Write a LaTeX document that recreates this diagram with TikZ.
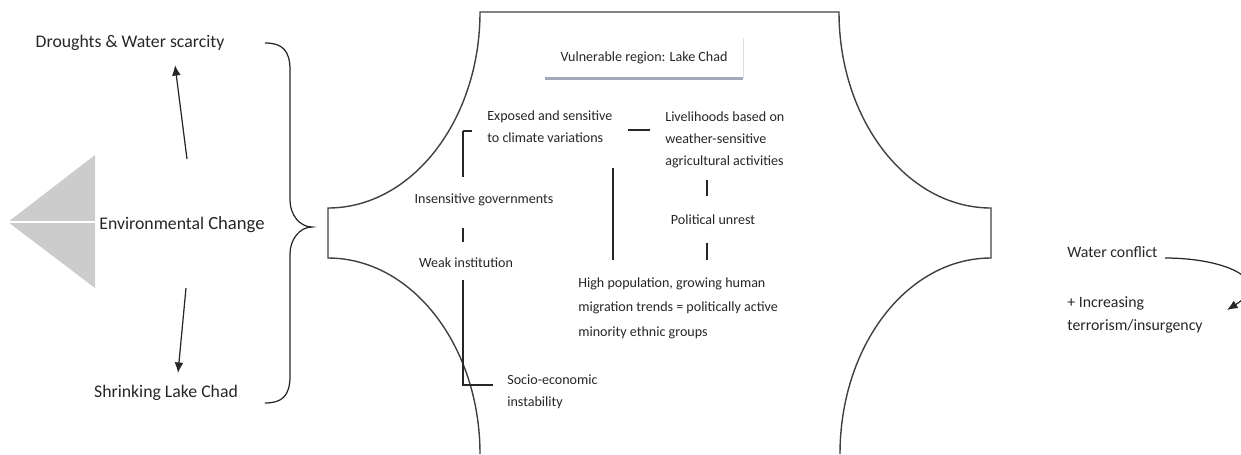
\documentclass[tikz,border=0pt]{standalone}
\usepackage{fontspec}
\setmainfont{Carlito}
\usetikzlibrary{arrows.meta}
\tikzset{
  txt/.style={inner sep=0pt, text=black!85, font=\fontsize{10.1}{12}\selectfont},
  inner/.style={inner sep=0pt, text=black!85, align=left, font=\fontsize{8}{12.5}\selectfont},
  side/.style={inner sep=0pt, text=black!85, align=left, font=\fontsize{9}{13}\selectfont},
  link/.style={black!85, line width=0.7pt},
  arr/.style={link, -{Latex[length=6pt, width=5pt]}},
  plaque/.style={black!75, line width=0.8pt},
}
\begin{document}
\begin{tikzpicture}[x=0.02cm, y=-0.02cm]
    \useasboundingbox (0,0) rectangle (1241,454);

    % Environmental change
    \fill[gray!40] (8,222) -- (95,155) -- (95,288) -- cycle;
    \draw[white, line width=1pt] (8,222) -- (95,222);
    \node[txt] (drought) at (130,43) {Droughts \& Water scarcity};
    \node[txt] (env) at (182,225) {Environmental {\fontsize{10.6}{12}\selectfont Change}};
    \node[txt] (shrink) at (166,393) {Shrinking Lake Chad};
    \coordinate (env-up) at (187,159); \coordinate (drought-in) at (175,65);
    \coordinate (env-dn) at (186,288); \coordinate (shrink-in) at (178,373);
    \draw[arr] (env-up) -- (drought-in);
    \draw[arr] (env-dn) -- (shrink-in);
    \draw[link] (265,43) .. controls (282,43) and (290,50) .. (290,70) -- (290,200)
        .. controls (290,215) and (300,227) .. (312,227)
        .. controls (300,227) and (290,239) .. (290,254) -- (290,376)
        .. controls (290,396) and (282,403) .. (265,403);

    % Vulnerable region
    \draw[plaque] (480,454) .. controls (480,346) and (412,258) .. (328,258) -- (328,208)
        .. controls (412,208) and (480,120) .. (480,12) -- (839,12)
        .. controls (839,120) and (907,208) .. (991,208) -- (991,258)
        .. controls (907,258) and (840,346) .. (840,454);
    \node[inner, align=center, minimum width=3.96cm, minimum height=0.8cm] (vuln) at (644,58) {Vulnerable region: Lake Chad};
    \draw[gray!25, line width=0.8pt] (vuln.south east) -- (vuln.north east);
    \draw[line width=1.6pt, color={rgb,255:red,160;green,170;blue,185}] (vuln.south west) -- (vuln.south east);

    \node[inner, anchor=west] (expo) at (487,127) {Exposed and sensitive\\to climate variations};
    \node[inner, anchor=west] (liveli) at (665,140) {Livelihoods based on\\weather-sensitive\\agricultural activities};
    \node[inner] (unrest) at (713,220) {Political unrest};
    \node[inner, anchor=west, font=\fontsize{8}{14}\selectfont] (popul) at (578,308) {High population, growing human\\migration trends = politically active\\minority ethnic groups};
    \node[inner] (insens) at (484,200) {Insensitive governments};
    \node[inner] (weak) at (466,263) {Weak institution};
    \node[inner, anchor=west] (socio) at (507,392) {Socio-economic\\instability};

    \draw[link] (628,130) -- (650,130);
    \draw[link] (707,180) -- (707,196);
    \draw[link] (707,243) -- (707,260);
    \draw[link] (613,168) -- (613,260);
    \draw[black!85, line width=1.3pt] (472,131) -- (463,131);
    \draw[link] (463,131) -- (463,177);
    \draw[link] (463,228) -- (463,242);
    \draw[link] (463,280) -- (463,385) -- (493,385);

    % Outcome
    \node[side, anchor=west] (water) at (1067,252) {Water conflict};
    \node[side, anchor=west] (terror) at (1067,315) {+ Increasing\\terrorism/insurgency};
    \coordinate (water-out) at (1165,258); \coordinate (terror-in) at (1227,310);
    \draw[arr] (water-out) .. controls (1225,258) and (1275,280) .. (terror-in);
\end{tikzpicture}
\end{document}
